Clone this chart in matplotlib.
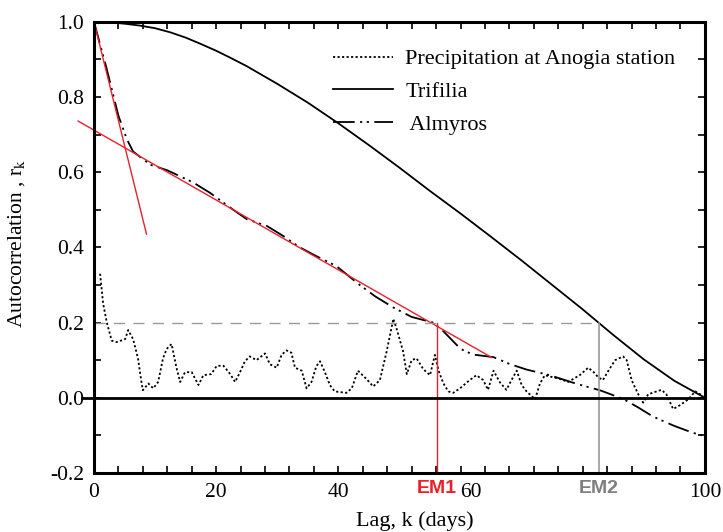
import matplotlib
matplotlib.use('Agg')
from matplotlib import pyplot as plt
from matplotlib import transforms

plt.rcParams['font.family'] = ['Liberation Serif', 'DejaVu Serif']
plt.rcParams['mathtext.fontset'] = 'stix'

# Trifilia (smooth)
trif_k = [0, 2.5, 5, 7.5, 10, 12.5, 15, 17.5, 20, 22.5, 25, 30, 35, 40, 45, 50, 55, 60,
          65, 70, 75, 80, 85, 90, 95, 100]
trif_r = [1.0, 0.999, 0.995, 0.99, 0.983, 0.972, 0.958, 0.941, 0.923, 0.903, 0.882,
          0.835, 0.785, 0.73, 0.672, 0.612, 0.55, 0.49, 0.428, 0.365, 0.3, 0.235,
          0.167, 0.102, 0.045, 0.0]

# Almyros
alm_k = [0, 2, 4, 5.4, 6.4, 9.2, 12, 16.2, 19, 22.8, 25, 28.3, 31, 33.7, 36, 39.7, 43.5,
         46, 49, 52, 55.5, 57, 60, 62, 65.4, 68, 70.8, 74.6, 79, 82.8, 86.6, 89, 91.5,
         95, 98, 99.5]
alm_r = [1.0, 0.88, 0.75, 0.687, 0.655, 0.62, 0.605, 0.573, 0.545, 0.50, 0.475, 0.457,
         0.43, 0.40, 0.38, 0.35, 0.30, 0.27, 0.24, 0.215, 0.2, 0.18, 0.13, 0.115, 0.108,
         0.09, 0.075, 0.06, 0.037, 0.02, -0.003, -0.025, -0.05, -0.075, -0.093, -0.1]

# Precipitation at Anogia station
prec_k = [1, 1.5, 2.1, 2.9, 3.7, 5.1, 5.6, 6.4, 7.2, 7.8, 8.0, 8.9, 9.7, 10.5, 11.3, 11.9,
          12.7, 13.5, 14.1, 14.9, 16.0, 17.1, 17.9, 19.2, 20.1, 21.2, 22.3, 23.1, 23.9,
          24.7, 25.5, 26.6, 28.0, 28.8, 29.9, 30.7, 31.5, 32.3, 32.9, 34.0, 34.8, 35.6,
          36.4, 37.0, 37.8, 38.6, 39.4, 41.3, 42.2, 43.2, 44.6, 45.7, 46.8, 47.9, 49.0,
          49.6, 50.6, 51.2, 52.0, 52.8, 53.9, 55.0, 55.8, 56.4, 57.2, 58.0, 58.8, 59.9,
          61.5, 62.6, 63.7, 64.5, 65.4, 66.4, 67.5, 68.6, 69.2, 70.0, 70.8, 72.2, 73.0,
          73.8, 75.0, 76.3, 77.6, 79.5, 80.9, 81.8, 82.5, 83.3, 84.2, 85.3, 86.6, 87.2,
          88.0, 89.1, 89.9, 90.7, 92.1, 92.9, 93.7, 94.8, 95.9, 97.3, 98.4, 99.7]
prec_r = [0.33, 0.25, 0.2, 0.152, 0.148, 0.156, 0.18, 0.156, 0.105, 0.038, 0.02, 0.038,
          0.025, 0.042, 0.105, 0.13, 0.143, 0.08, 0.042, 0.068, 0.068, 0.034, 0.06, 0.063,
          0.085, 0.085, 0.063, 0.042, 0.068, 0.097, 0.11, 0.1, 0.118, 0.089, 0.08, 0.114,
          0.126, 0.12, 0.08, 0.072, 0.025, 0.042, 0.084, 0.097, 0.068, 0.034, 0.017, 0.013,
          0.025, 0.072, 0.05, 0.03, 0.047, 0.123, 0.21, 0.18, 0.123, 0.063, 0.1, 0.105,
          0.076, 0.06, 0.114, 0.072, 0.038, 0.017, 0.013, 0.025, 0.047, 0.06, 0.047, 0.021,
          0.072, 0.042, 0.021, 0.055, 0.072, 0.034, 0.017, -0.004, 0.038, 0.06, 0.055,
          0.05, 0.042, 0.06, 0.08, 0.068, 0.055, 0.047, 0.072, 0.1, 0.11, 0.1, 0.047,
          0.009, -0.013, 0.009, 0.017, 0.021, 0.009, -0.03, -0.02, -0.004, 0.017, 0.005]

# red fitted lines
fit1_k = [0, 8.6]
fit1_r = [1.0, 0.435]
fit2_k = [-2.6, 65.1]
fit2_r = [0.736, 0.107]

em1 = 56.1
em2 = 82.6
thresh = 0.2

fig = plt.figure(figsize=(7.23, 5.32), dpi=100)
ax = fig.add_axes([0.130, 0.111, 0.845, 0.848])

ax.plot(prec_k, prec_r, color='black', ls=(0, (1.2, 1.3)), lw=1.3,
        label='Precipitation at Anogia station')
ax.plot(trif_k, trif_r, color='black', ls='-', lw=1.3, label='Trifilia')
ax.plot(alm_k, alm_r, color='black', ls=(0, (12, 3, 1.2, 2.5, 1.2, 3)), lw=1.3,
        label=' Almyros')

ax.plot(fit1_k, fit1_r, color='#e8202a', lw=1.0, clip_on=False)
ax.plot(fit2_k, fit2_r, color='#e8202a', lw=1.0, clip_on=False)

ax.plot([0, em2], [thresh, thresh], color='#999999', ls=(0, (8, 6)), lw=1.0)
ax.plot([em1, em1], [-0.2, thresh], color='#e8202a', lw=1.0)
ax.plot([em2, em2], [-0.2, thresh], color='#999999', lw=1.2)
ax.axhline(0, xmin=-0.02, xmax=1, color='black', lw=2, clip_on=False)

ax.set_xlim(0, 100)
ax.set_ylim(-0.2, 1.0)
ax.set_xticks([0, 20, 40, 60, 100])
ax.set_xticklabels(['0', '20', '40', '60', '100'])
ax.set_xticks(list(range(0, 101, 4)), minor=True)
ax.set_yticks([-0.2, 0.0, 0.2, 0.4, 0.6, 0.8, 1.0])
ax.set_yticklabels(['-0.2', '0.0', '0.2', '0.4', '0.6', '0.8', '1.0'])
ax.set_yticks([i / 10 for i in range(-2, 11)], minor=True)
ax.tick_params(which='both', direction='in', length=5, width=1.2,
               top=True, right=True, labelsize=15.5, pad=7)
for s in ax.spines.values():
    s.set_linewidth(2.2)

# shift "60" a bit right like the original
lab60 = ax.get_xticklabels()[3]
lab60.set_transform(lab60.get_transform() + transforms.ScaledTranslation(0.1, 0, fig.dpi_scale_trans))

off = transforms.ScaledTranslation(0, -0.07, fig.dpi_scale_trans)
ax.text(em1, -0.2, 'EM1', transform=ax.transData + off, ha='center', va='top',
        color='#e8202a', fontsize=14, fontweight='bold', family='Liberation Sans')
ax.text(em2, -0.2, 'EM2', transform=ax.transData + off, ha='center', va='top',
        color='#7f7f7f', fontsize=14, fontweight='bold', family='Liberation Sans')

ax.set_xlabel('Lag, k (days)', fontsize=16, labelpad=3)
ax.xaxis.set_label_coords(0.525, -0.085)
ax.set_ylabel(r'Autocorrelation , r$_{\rm k}$', fontsize=15.5)
ax.yaxis.set_label_coords(-0.11, 0.51)

ax.legend(loc='upper left', bbox_to_anchor=(0.391, 0.94), frameon=False,
          fontsize=16, handlelength=2.7, handletextpad=0.55, labelspacing=0.55,
          borderpad=0, borderaxespad=0)

plt.savefig('out.png', dpi=100)
